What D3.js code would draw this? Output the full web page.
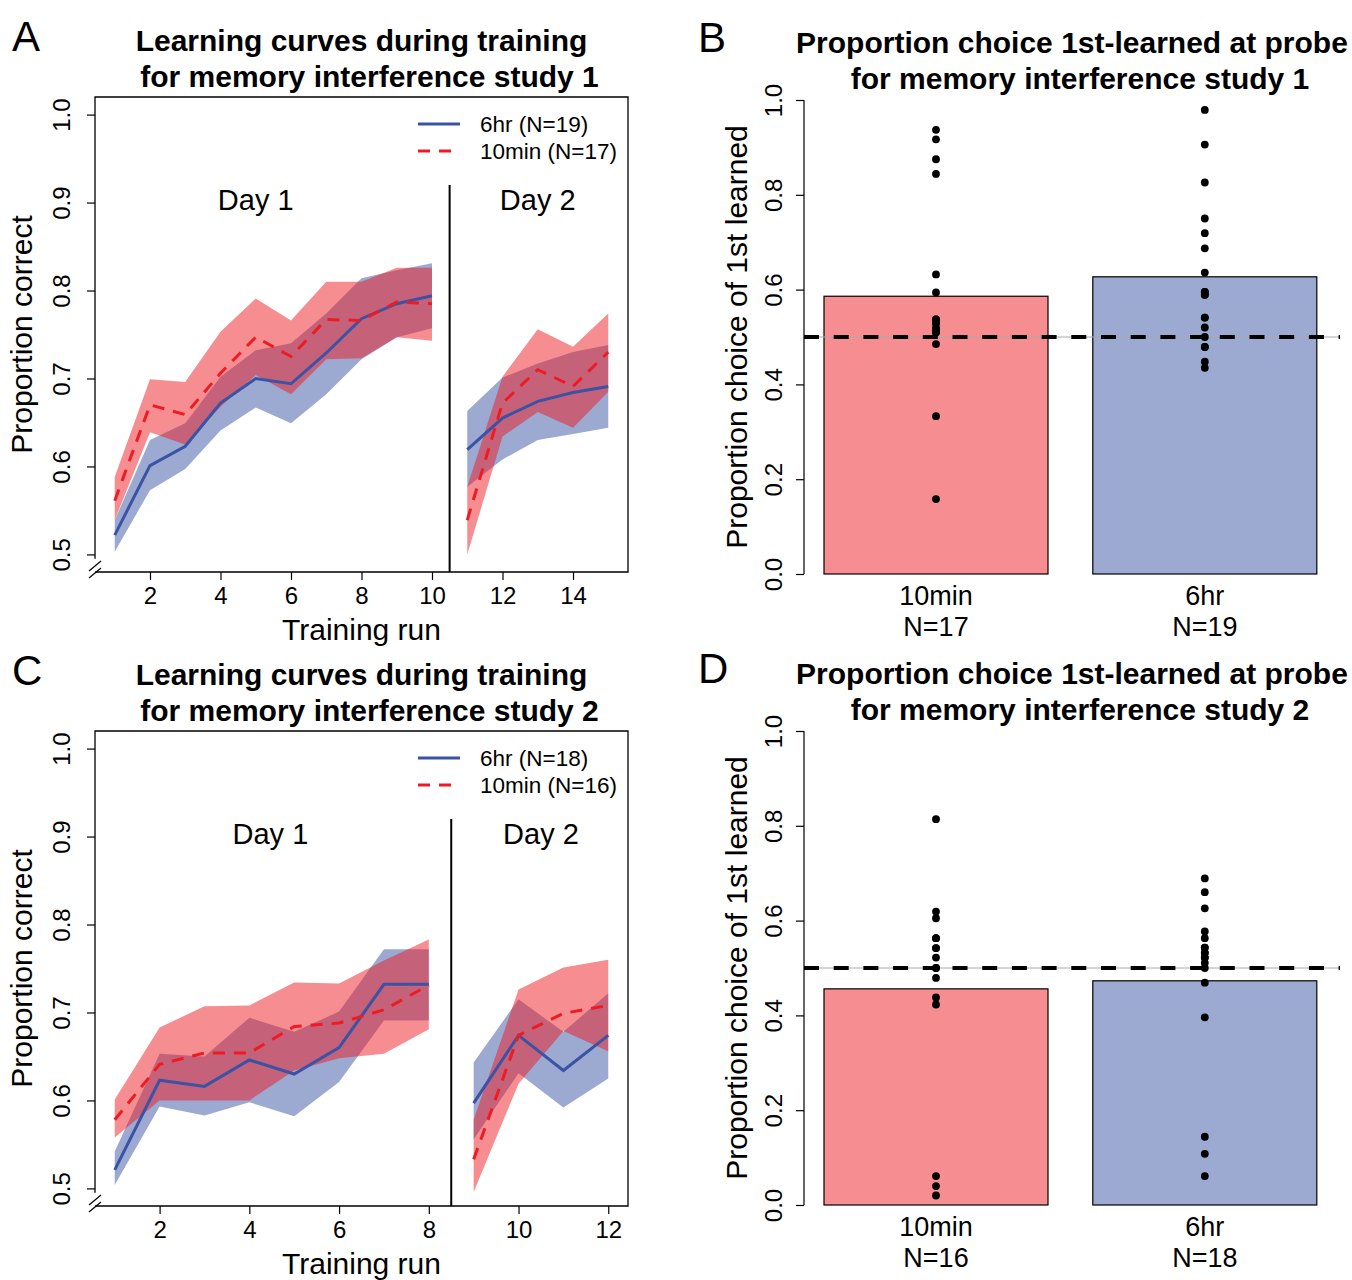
<!DOCTYPE html>
<html><head><meta charset="utf-8">
<script src="https://cdn.jsdelivr.net/npm/d3@7/dist/d3.min.js"></script>
<style>body{margin:0;background:#fff}</style>
</head><body>
<script>
// ---------- DATA ----------
const runs1 = [1,2,3,4,5,6,7,8,9,10,11,12,13,14,15];
const day1Count1 = 10;
const sixhr1Mean  = [0.522,0.601,0.623,0.672,0.700,0.694,0.729,0.768,0.785,0.794, 0.619,0.655,0.674,0.684,0.691];
const sixhr1Upper = [0.539,0.630,0.649,0.702,0.732,0.740,0.774,0.814,0.823,0.831, 0.663,0.701,0.717,0.730,0.738];
const sixhr1Lower = [0.503,0.573,0.597,0.641,0.667,0.649,0.682,0.722,0.747,0.757, 0.577,0.608,0.630,0.637,0.644];
const tenmin1Mean  = [0.561,0.670,0.659,0.706,0.747,0.725,0.767,0.766,0.787,0.785, 0.539,0.672,0.710,0.691,0.730];
const tenmin1Upper = [0.588,0.699,0.696,0.753,0.791,0.766,0.810,0.810,0.826,0.826, 0.577,0.702,0.756,0.736,0.774];
const tenmin1Lower = [0.539,0.639,0.625,0.668,0.704,0.682,0.722,0.723,0.747,0.743, 0.500,0.634,0.662,0.644,0.685];
const xTicks1 = [2,4,6,8,10,12,14];

const runs2 = [1,2,3,4,5,6,7,8,9,10,11,12];
const day1Count2 = 8;
const sixhr2Mean  = [0.521,0.623,0.616,0.646,0.630,0.660,0.732,0.732, 0.597,0.674,0.634,0.674];
const sixhr2Upper = [0.542,0.653,0.650,0.694,0.678,0.701,0.772,0.772, 0.643,0.715,0.678,0.722];
const sixhr2Lower = [0.504,0.593,0.583,0.598,0.582,0.621,0.691,0.691, 0.556,0.631,0.592,0.625];
const tenmin2Mean  = [0.578,0.641,0.654,0.654,0.684,0.688,0.703,0.731, 0.533,0.674,0.699,0.708];
const tenmin2Upper = [0.601,0.683,0.707,0.708,0.734,0.733,0.759,0.783, 0.578,0.726,0.751,0.760];
const tenmin2Lower = [0.558,0.600,0.600,0.600,0.634,0.648,0.653,0.681, 0.496,0.619,0.679,0.656];
const xTicks2 = [2,4,6,8,10,12];

const yTicksLine = [0.5,0.6,0.7,0.8,0.9,1.0];
const yTicksBar = [0.0,0.2,0.4,0.6,0.8,1.0];

const barGroups = ["10min","6hr"];
const barN1 = ["N=17","N=19"];
const barN2 = ["N=16","N=18"];
const barMeans1 = [0.586,0.627];
const barMeans2 = [0.456,0.473];
const dots1_10min = [0.937,0.917,0.875,0.844,0.632,0.594,0.537,0.537,0.529,0.529,0.518,0.518,0.510,0.510,0.485,0.333,0.158];
const dots1_6hr   = [0.979,0.906,0.826,0.750,0.719,0.687,0.636,0.595,0.595,0.589,0.589,0.541,0.541,0.520,0.500,0.479,0.479,0.448,0.435];
const dots2_10min = [0.814,0.619,0.605,0.563,0.563,0.542,0.542,0.522,0.500,0.500,0.479,0.438,0.423,0.061,0.040,0.020];
const dots2_6hr   = [0.689,0.660,0.626,0.577,0.563,0.543,0.543,0.532,0.532,0.522,0.522,0.511,0.500,0.469,0.396,0.144,0.108,0.061];

// ---------- STYLE ----------
const FONT = "'Liberation Sans', Arial, Helvetica, sans-serif";
const BLUE = "rgb(58,83,164)";
const RED = "rgb(237,28,36)";
const BLUE_F = "rgba(58,83,164,0.5)";
const RED_F = "rgba(237,28,36,0.5)";

const svg = d3.select("body").append("svg").attr("width",1352).attr("height",1280)
  .style("font-family",FONT);

function txt(x,y,s,size,opts={}) {
  const t = svg.append("text").attr("x",x).attr("y",y).text(s)
    .attr("font-size",size).attr("fill","#000")
    .attr("text-anchor",opts.anchor||"middle");
  if (opts.bold) t.attr("font-weight","bold");
  if (opts.rotate) t.attr("transform",`rotate(-90,${x},${y})`);
  return t;
}

function linePanel(o) {
  const L=95, R=628;
  const x = d3.scaleLinear().domain(o.xDomain).range([L,R]);
  const y = d3.scaleLinear().domain([0.48,1.02]).range([o.bottom,o.top]);
  const g = svg.append("g");
  const idx = o.runs.map((d,i)=>i);
  const segs = [idx.slice(0,o.split), idx.slice(o.split)];
  const series = [
    {m:o.sixM,u:o.sixU,l:o.sixL,col:BLUE,fill:BLUE_F,dash:null},
    {m:o.tenM,u:o.tenU,l:o.tenL,col:RED,fill:RED_F,dash:"12,9"}
  ];
  series.forEach(s=>{
    segs.forEach(seg=>{
      const area = d3.area().x(i=>x(o.runs[i])).y0(i=>y(s.l[i])).y1(i=>y(s.u[i]));
      g.append("path").attr("d",area(seg)).attr("fill",s.fill).attr("stroke","none");
    });
  });
  series.forEach(s=>{
    segs.forEach(seg=>{
      const line = d3.line().x(i=>x(o.runs[i])).y(i=>y(s.m[i]));
      const p = g.append("path").attr("d",line(seg)).attr("fill","none")
        .attr("stroke",s.col).attr("stroke-width",3);
      if (s.dash) p.attr("stroke-dasharray",s.dash);
    });
  });
  const xd = x(o.runs[o.split-1]+0.5);
  g.append("line").attr("x1",xd).attr("x2",xd).attr("y1",y(0.92)).attr("y2",o.bottom)
    .attr("stroke","#000").attr("stroke-width",2);
  const yb = y(0.495);
  g.append("path").attr("d",`M${L},${yb}L${L},${o.top}L${R},${o.top}L${R},${o.bottom}L${L},${o.bottom}`)
    .attr("fill","none").attr("stroke","#000").attr("stroke-width",1.3);
  [-6,1].forEach(dy=>{
    g.append("line").attr("x1",L-6).attr("y1",o.bottom+dy+5).attr("x2",L+6).attr("y2",o.bottom+dy-5)
      .attr("stroke","#000").attr("stroke-width",1.2);
  });
  const xa = g.append("g").attr("transform",`translate(0,${o.bottom})`)
    .call(d3.axisBottom(x).tickValues(o.xTicks).tickSize(8).tickPadding(7).tickFormat(d3.format("d")));
  xa.select(".domain").remove();
  xa.selectAll("line").attr("stroke","#000").attr("stroke-width",1.2);
  xa.selectAll("text").attr("font-size",24).attr("font-family",FONT).attr("fill","#000").attr("dy","0.72em");
  const ya = g.append("g").attr("transform",`translate(${L},0)`)
    .call(d3.axisLeft(y).tickValues(yTicksLine).tickSize(8).tickFormat(d3.format(".1f")));
  ya.select(".domain").remove();
  ya.selectAll("line").attr("stroke","#000").attr("stroke-width",1.2);
  ya.selectAll("text").attr("font-size",24).attr("font-family",FONT).attr("fill","#000")
    .attr("x",0).attr("y",-25).attr("dy",0).attr("text-anchor","middle").attr("transform","rotate(-90)");
  txt(x(o.day1X), y(0.903)+10, "Day 1", 29);
  txt(x(o.day2X), y(0.903)+10, "Day 2", 29);
  const lg = [{s:o.leg[0],c:BLUE,d:null,yy:o.top+27},{s:o.leg[1],c:RED,d:"12,9",yy:o.top+54}];
  lg.forEach(e=>{
    const ln = g.append("line").attr("x1",418).attr("x2",460).attr("y1",e.yy).attr("y2",e.yy)
      .attr("stroke",e.c).attr("stroke-width",3);
    if (e.d) ln.attr("stroke-dasharray",e.d);
    txt(480,e.yy+8,e.s,22.5,{anchor:"start"});
  });
  txt((L+R)/2, o.bottom+68, "Training run", 30);
  txt(32, (o.top+o.bottom)/2, "Proportion correct", 30, {rotate:true});
  txt((L+R)/2, o.top-46, o.title[0], 30, {bold:true});
  txt((L+R)/2+8, o.top-10, o.title[1], 30, {bold:true});
  txt(12, o.top-46, o.letter, 42, {anchor:"start"});
}

function barPanel(o) {
  const AX = 804;
  const x = d3.scaleLinear().domain([0,2.6]).range([779.2,1361.6]);
  const y = d3.scaleLinear().domain([0,1]).range([o.bottom,o.top]);
  const g = svg.append("g");
  const starts = [0.2,1.4];
  const fills = [RED_F, BLUE_F];
  barGroups.forEach((grp,i)=>{
    g.append("rect").attr("x",x(starts[i])).attr("width",x(starts[i]+1)-x(starts[i]))
      .attr("y",y(o.means[i])).attr("height",y(0)-y(o.means[i]))
      .attr("fill",fills[i]).attr("stroke","#000").attr("stroke-width",1.2);
  });
  g.append("line").attr("x1",AX).attr("x2",1340).attr("y1",y(0.5)).attr("y2",y(0.5))
    .attr("stroke","#aaa").attr("stroke-width",1);
  g.append("line").attr("x1",AX).attr("x2",1340).attr("y1",y(0.5)).attr("y2",y(0.5))
    .attr("stroke","#000").attr("stroke-width",4).attr("stroke-dasharray","15,14.7");
  o.dots.forEach((arr,i)=>{
    g.selectAll(null).data(arr).enter().append("circle")
      .attr("cx",x(starts[i]+0.5)).attr("cy",d=>y(d)).attr("r",3.9).attr("fill","#000");
  });
  const ya = g.append("g").attr("transform",`translate(${AX},0)`)
    .call(d3.axisLeft(y).tickValues(yTicksBar).tickSize(8).tickFormat(d3.format(".1f")));
  ya.select(".domain").attr("stroke","#000").attr("stroke-width",1.2).attr("d",`M0,${y(0)}V${y(1)}`);
  ya.selectAll("line").attr("stroke","#000").attr("stroke-width",1.2);
  ya.selectAll("text").attr("font-size",24).attr("font-family",FONT).attr("fill","#000")
    .attr("x",0).attr("y",-22).attr("dy",0).attr("text-anchor","middle").attr("transform","rotate(-90)");
  barGroups.forEach((grp,i)=>{
    const cx = x(starts[i]+0.5);
    txt(cx, o.bottom+31, grp, 27);
    txt(cx, o.bottom+62, o.ns[i], 27);
  });
  txt(747, (o.top+o.bottom)/2, "Proportion choice of 1st learned", 30, {rotate:true});
  txt(1072, o.top-47, o.title[0], 30, {bold:true});
  txt(1080, o.top-11, o.title[1], 30, {bold:true});
  txt(698, o.top-48, o.letter, 42, {anchor:"start"});
}

linePanel({runs:runs1, split:day1Count1, xDomain:[0.44,15.56], xTicks:xTicks1, top:97, bottom:572,
  sixM:sixhr1Mean, sixU:sixhr1Upper, sixL:sixhr1Lower, tenM:tenmin1Mean, tenU:tenmin1Upper, tenL:tenmin1Lower,
  day1X:5, day2X:13, leg:["6hr (N=19)","10min (N=17)"],
  title:["Learning curves during training","for memory interference study 1"], letter:"A"});
linePanel({runs:runs2, split:day1Count2, xDomain:[0.56,12.44], xTicks:xTicks2, top:731, bottom:1206,
  sixM:sixhr2Mean, sixU:sixhr2Upper, sixL:sixhr2Lower, tenM:tenmin2Mean, tenU:tenmin2Upper, tenL:tenmin2Lower,
  day1X:4.47, day2X:10.5, leg:["6hr (N=18)","10min (N=16)"],
  title:["Learning curves during training","for memory interference study 2"], letter:"C"});
barPanel({top:100, bottom:574, means:barMeans1, dots:[dots1_10min,dots1_6hr], ns:barN1,
  title:["Proportion choice 1st-learned at probe","for memory interference study 1"], letter:"B"});
barPanel({top:731, bottom:1205, means:barMeans2, dots:[dots2_10min,dots2_6hr], ns:barN2,
  title:["Proportion choice 1st-learned at probe","for memory interference study 2"], letter:"D"});
</script>
</body></html>
